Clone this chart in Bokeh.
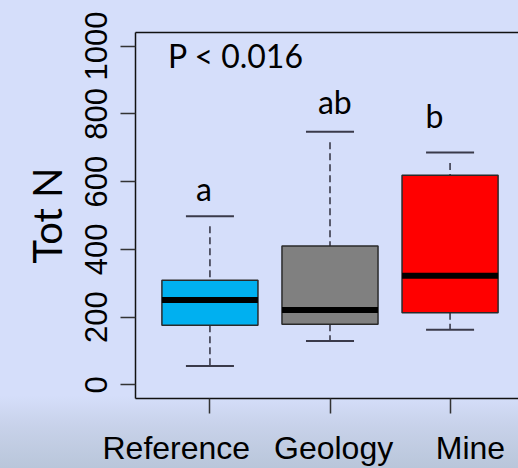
from bokeh.plotting import figure
from bokeh.models import Range1d, FixedTicker, LinearAxis, Label, ColumnDataSource
from bokeh.core.properties import value
from bokeh.embed import file_html
from bokeh.resources import INLINE

# Total nitrogen by site group
categories = ["Reference", "Geology", "Mine"]
positions = [1, 2, 3]
q1 = [176, 179, 213]
median = [251, 221, 322]
q3 = [309, 410, 619]
whisker_low = [56, 130, 163]
whisker_high = [468, 716, 655]
box_colors = ["#00B0F0", "#808080", "#FF0000"]

# Category names sit under the ticks, nudged sideways
name_x = [0.72, 2.03, 3.17]

# Significance groups (letters over a short bar)
group_letters = ["a", "ab", "b"]
group_bar = [498, 747, 686]
letter_x = [0.95, 2.04, 2.87]
letter_y = [580, 836, 796]

y_ticks = [0, 200, 400, 600, 800, 1000]

half_box = 0.4
half_cap = 0.2

src = ColumnDataSource(dict(
    x=positions, q1=q1, med=median, q3=q3, lo=whisker_low, hi=whisker_high,
    color=box_colors, bar=group_bar,
    left=[x - half_box for x in positions], right=[x + half_box for x in positions],
    cl=[x - half_cap for x in positions], cr=[x + half_cap for x in positions],
))

p = figure(width=518, height=468, output_backend="svg", toolbar_location=None,
           x_range=Range1d(0.38, 3.57), y_range=Range1d(-40, 1040),
           min_border_left=135, min_border_top=32, min_border_right=0, min_border_bottom=70)
p.background_fill_color = "#D5DEFA"
p.border_fill_color = None
p.styles = {"background": "linear-gradient(to bottom, #D5DEFA 0px, #D5DEFA 396px, #C8D2EA 425px, #B9C6DA 468px)"}
p.outline_line_color = None
p.xgrid.visible = False
p.ygrid.visible = False

ax = p.left[0]
bx = p.below[0]

# top frame line
top = LinearAxis(ticker=FixedTicker(ticks=[]), major_label_text_font_size="0px",
                 major_tick_line_color=None, minor_tick_line_color=None,
                 major_tick_out=0, major_label_standoff=0,
                 axis_line_color="#111111", axis_line_width=1.5)
p.add_layout(top, "above")

ax.ticker = FixedTicker(ticks=y_ticks)
ax.major_label_orientation = "vertical"
ax.major_tick_out = 15
ax.major_tick_in = 0
ax.minor_tick_line_color = None
ax.major_tick_line_color = "#333333"
ax.major_tick_line_width = 1.5
ax.axis_line_color = "#111111"
ax.axis_line_width = 1.5
ax.major_label_text_font = "Liberation Sans"
ax.major_label_text_font_size = "31px"
ax.major_label_text_color = "black"
ax.major_label_standoff = 13
ax.axis_label = "Tot N"
ax.axis_label_text_font = "Lato"
ax.axis_label_text_font_style = "normal"
ax.axis_label_text_font_size = "40px"
ax.axis_label_text_color = "black"
ax.axis_label_standoff = 12

# bottom axis: tick marks only
bx.ticker = FixedTicker(ticks=positions)
bx.major_label_overrides = {x: " " for x in positions}
bx.major_label_text_font_size = "0px"
bx.major_label_standoff = 0
bx.major_tick_out = 15
bx.major_tick_in = 0
bx.minor_tick_line_color = None
bx.major_tick_line_color = "#333333"
bx.major_tick_line_width = 1.5
bx.axis_line_color = "#111111"
bx.axis_line_width = 1.5

# second bottom axis carrying the category names
names_axis = LinearAxis(ticker=FixedTicker(ticks=name_x),
                        major_label_overrides={nx: c for nx, c in zip(name_x, categories)},
                        major_tick_line_color=None, minor_tick_line_color=None,
                        major_tick_out=0, major_tick_in=0, axis_line_color=None,
                        major_label_standoff=16,
                        major_label_text_font="Liberation Sans",
                        major_label_text_font_size="32px",
                        major_label_text_color="black")
p.add_layout(names_axis, "below")

# whiskers (dashed), drawn outward from the extremes
p.segment(x0="x", y0="hi", x1="x", y1="q3", source=src, line_color="#3A3A4A",
          line_width=1.6, line_dash="7 4")
p.segment(x0="x", y0="q1", x1="x", y1="lo", source=src, line_color="#3A3A4A",
          line_width=1.6, line_dash="7 4")
# lower staples
p.segment(x0="cl", y0="lo", x1="cr", y1="lo", source=src, line_color="#3A3A4A", line_width=2)
# boxes
p.quad(left="left", right="right", bottom="q1", top="q3", source=src,
       fill_color="color", line_color="#2A2A2A", line_width=1.5)
# medians
p.segment(x0="left", y0="med", x1="right", y1="med", source=src,
          line_color="black", line_width=6, line_cap="butt")

# group bars and letters
p.segment(x0="cl", y0="bar", x1="cr", y1="bar", source=src, line_color="#3A3A4A", line_width=2)
p.text(x=letter_x, y=letter_y, text=group_letters, text_font=value("Lato"),
       text_font_size="32px", text_align="center", text_baseline="alphabetic",
       text_color="black")

p.add_layout(Label(x=0.65, y=971, text="P < 0.016", text_font="Lato",
                   text_font_size="32px", text_color="black", text_baseline="alphabetic"))

open("out.html", "w").write(file_html(p, INLINE))
